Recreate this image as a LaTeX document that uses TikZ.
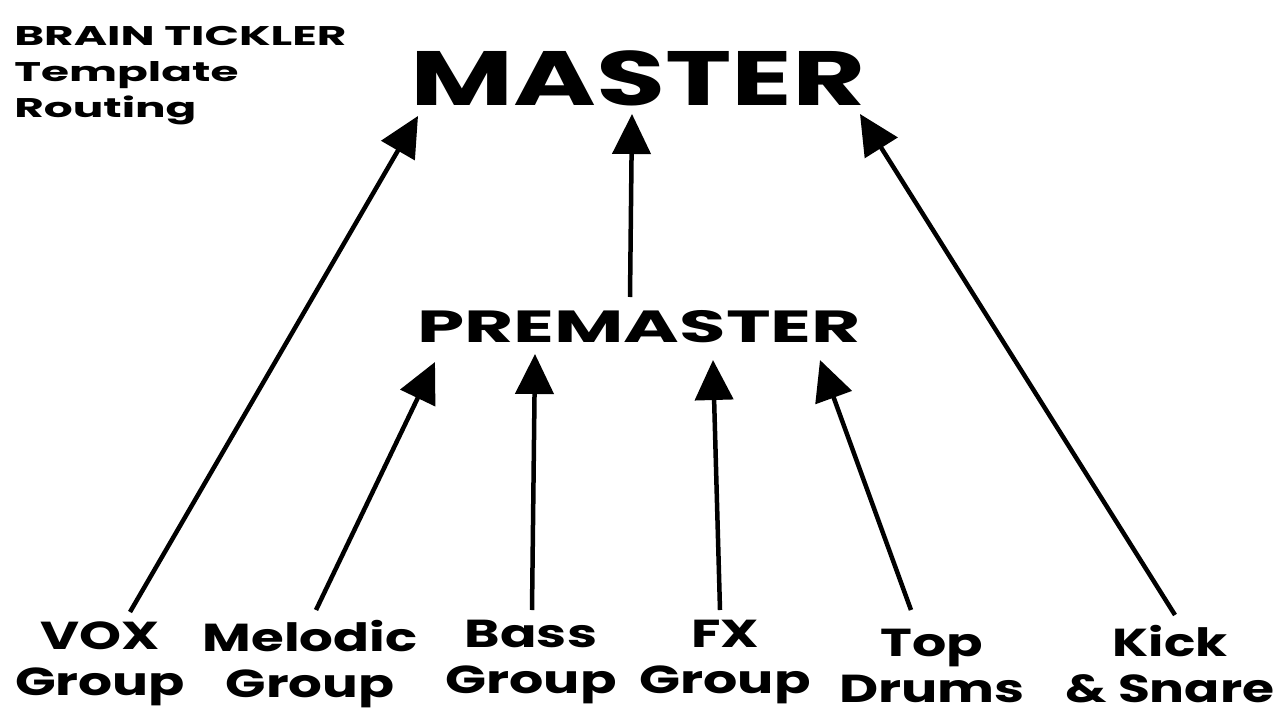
\documentclass[tikz,border=0pt]{standalone}
\usepackage{fontspec}
\setmainfont{Poppins}[UprightFont=* Bold]
\usetikzlibrary{arrows.meta,positioning}

\tikzset{
  feed/.style={line width=4.5pt, -{Triangle[length=40pt,width=38pt]}},
  bus/.style={inner sep=0pt, align=center, transform shape},
  group/.style={bus, font=\fontsize{39}{46}\selectfont}
}
% label stretched sideways around a point
\newcommand{\widenode}[5]{%
  \begin{scope}[shift={#2}, xscale=#3]
    \node[#4] (#1) at (0,0) {#5};
  \end{scope}}

\begin{document}
\begin{tikzpicture}[x=1pt, y=-1pt]
    \useasboundingbox (0,0) rectangle (1280,720);

    % Title
    \widenode{title}{(14,26)}{1.68}{bus, align=left, anchor=north west, font=\fontsize{27}{36}\selectfont}
        {BRAIN TICKLER\\Template\\Routing}

    % Busses
    \widenode{master}{(638,78)}{1.46}{bus, font=\fontsize{77}{80}\selectfont}{MASTER}
    \widenode{premaster}{(639,327)}{1.68}{bus, font=\fontsize{45}{50}\selectfont}{PREMASTER}

    % Groups
    \widenode{vox}{(100,664)}{1.37}{group}{VOX\\Group}
    \widenode{melodic}{(310,664)}{1.36}{group}{Melodic\\Group}
    \widenode{bass}{(531,662)}{1.38}{group}{Bass\\Group}
    \widenode{fx}{(725,662)}{1.38}{group}{FX\\Group}
    \widenode{top}{(932,666)}{1.38}{group}{Top\\Drums}
    \widenode{kick}{(1170,664)}{1.33}{group}{Kick\\\& Snare}

    % Connector ends
    \coordinate (vox-out) at (130,612);
    \coordinate (melodic-out) at (316,610);
    \coordinate (bass-out) at (532,610);
    \coordinate (fx-out) at (720,610);
    \coordinate (top-out) at (911,610);
    \coordinate (kick-out) at (1175,615);
    \coordinate (pre-out) at (630,297);
    \coordinate (master-l) at (418,116);
    \coordinate (master-c) at (632,114);
    \coordinate (master-r) at (860,114);
    \coordinate (pre-1) at (435,362);
    \coordinate (pre-2) at (535,354);
    \coordinate (pre-3) at (713,360);
    \coordinate (pre-4) at (820,360);

    % Routing
    \draw[feed] (vox-out) -- (master-l);
    \draw[feed] (kick-out) -- (master-r);
    \draw[feed] (pre-out) -- (master-c);
    \draw[feed] (melodic-out) -- (pre-1);
    \draw[feed] (bass-out) -- (pre-2);
    \draw[feed] (fx-out) -- (pre-3);
    \draw[feed] (top-out) -- (pre-4);
\end{tikzpicture}
\end{document}
